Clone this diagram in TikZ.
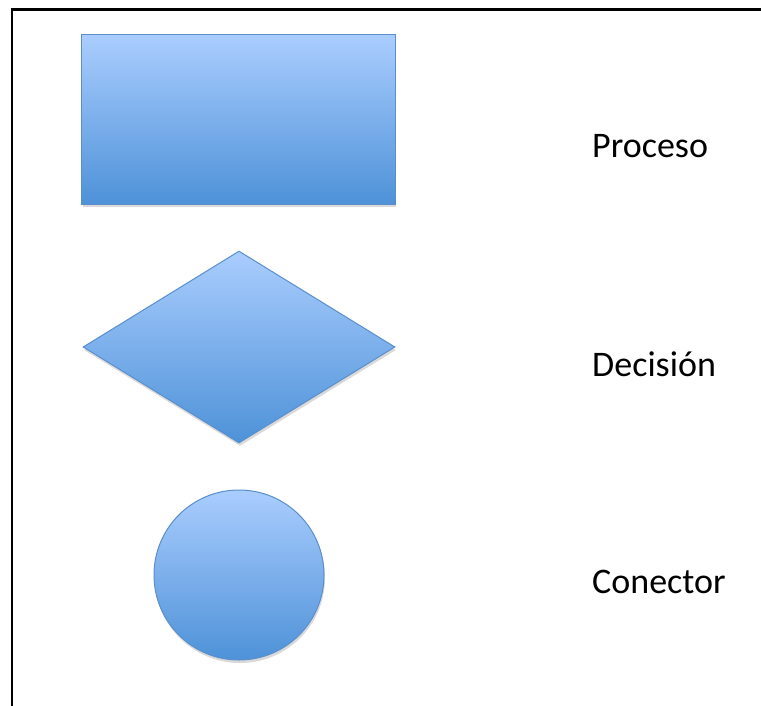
\documentclass[tikz,border=0pt]{standalone}
\usepackage{fontspec}
\setmainfont{Carlito}
\usetikzlibrary{shapes.geometric,shadows}
\definecolor{shapetop}{HTML}{AACDFE}
\definecolor{shapebot}{HTML}{4E92D8}
\definecolor{shapeedge}{HTML}{5A8FCB}
\tikzset{
  shapebox/.style={draw=shapeedge, line width=1bp, top color=shapetop, bottom color=shapebot,
    inner sep=0pt, drop shadow={shadow xshift=1bp, shadow yshift=-3bp, opacity=0.25, fill=black!60}},
  label/.style={anchor=base west, inner sep=0pt, font=\fontsize{36bp}{40bp}\selectfont},
  frame/.style={line width=2.2bp, black}
}
\begin{document}
\begin{tikzpicture}[x=1bp,y=-1bp]
\useasboundingbox (0,0) rectangle (761,706);
\draw[frame] (761,9.5) -- (12,9.5) -- (12,706);
\node[shapebox, rectangle, minimum width=313bp, minimum height=169bp] (proc) at (238.5,119.5) {};
\node[shapebox, diamond, minimum width=312bp, minimum height=192bp] (dec) at (239,347) {};
\node[shapebox, circle, minimum size=170bp] (con) at (239,575) {};
\node[label] (lproc) at (592,157) {Proceso};
\node[label] (ldec) at (592,376) {Decisión};
\node[label] (lcon) at (592,593) {Conector};
\end{tikzpicture}
\end{document}
